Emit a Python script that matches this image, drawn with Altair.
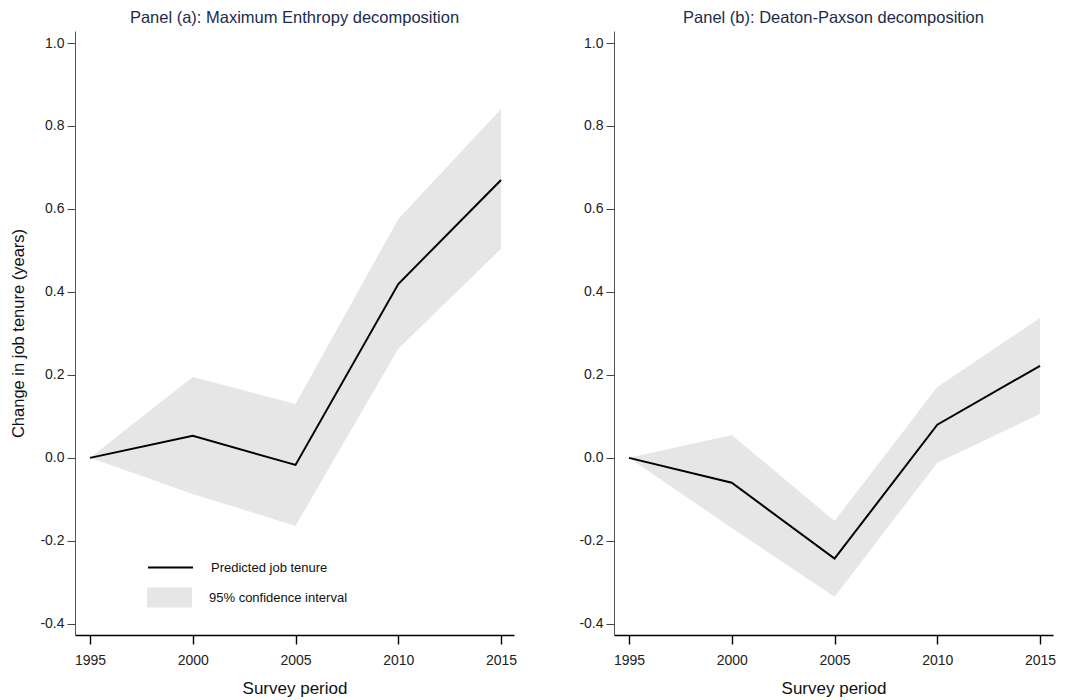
import altair as alt
import pandas as pd

years = [1995, 2000, 2005, 2010, 2015]

# Panel (a): Maximum Entropy decomposition
a_est = [0.0, 0.053, -0.017, 0.419, 0.670]
a_lo = [0.0, -0.087, -0.164, 0.263, 0.504]
a_hi = [0.0, 0.195, 0.130, 0.576, 0.841]

# Panel (b): Deaton-Paxson decomposition
b_est = [0.0, -0.060, -0.243, 0.080, 0.222]
b_lo = [0.0, -0.169, -0.335, -0.012, 0.106]
b_hi = [0.0, 0.055, -0.152, 0.171, 0.337]

x_ticks = [1995, 2000, 2005, 2010, 2015]
y_ticks = [-0.4, -0.2, 0.0, 0.2, 0.4, 0.6, 0.8, 1.0]

line_label = "Predicted job tenure"
ci_label = "95% confidence interval"

FONT = "Liberation Sans"
W, H = 439, 604
Y_DOMAIN = [-0.427, 1.029]

def frame(est, lo, hi):
    return pd.DataFrame({"year": years, "est": est, "lo": lo, "hi": hi,
                         "s": line_label, "c": ci_label})

x_enc = alt.X("year:Q", title="Survey period",
              scale=alt.Scale(domain=[1994.27, 2015.63], nice=False, zero=False),
              axis=alt.Axis(values=x_ticks, format="d", grid=False,
                            domainColor="#000000", domainWidth=1.6,
                            tickColor="#000000", tickWidth=1.4, tickSize=9,
                            labelPadding=9, labelFontSize=14, labelColor="#222222",
                            labelFont=FONT, titleFont=FONT, titleFontSize=17,
                            titleFontWeight="normal", titleColor="#111111",
                            titlePadding=13))

def y_axis():
    return alt.Axis(values=y_ticks, grid=False,
                    labelExpr="replace(format(datum.value, '.1f'), '\u2212', '-')",
                    domainColor="#555555", domainWidth=1,
                    tickColor="#444444", tickWidth=1, tickSize=8,
                    labelPadding=3, labelFontSize=14, labelColor="#222222",
                    labelFont=FONT, titleFont=FONT, titleFontSize=16.5,
                    titleFontWeight="normal", titleColor="#111111", titlePadding=13)

def y_enc(field, ytitle):
    return alt.Y(field, title=ytitle,
                 scale=alt.Scale(domain=Y_DOMAIN, nice=False, zero=False),
                 axis=y_axis())

def panel(df, title, ytitle, legend):
    base = alt.Chart(df)
    if legend:
        fill = alt.Fill("c:N", scale=alt.Scale(domain=[ci_label], range=["#e6e6e6"]),
                        legend=alt.Legend(orient="none", legendX=72, legendY=544,
                                          title=None, padding=0,
                                          symbolType="M-1,-0.44L1,-0.44L1,0.44L-1,0.44Z",
                                          symbolSize=2025, symbolStrokeWidth=0,
                                          symbolOpacity=1,
                                          labelFont=FONT, labelFontSize=13,
                                          labelColor="#111111", labelOffset=17))
        stroke = alt.Stroke("s:N", scale=alt.Scale(domain=[line_label], range=["#000000"]),
                            legend=alt.Legend(orient="none", legendX=72, legendY=513,
                                              title=None, padding=0,
                                              symbolType="stroke", symbolSize=2025,
                                              symbolStrokeWidth=2,
                                              labelFont=FONT, labelFontSize=13,
                                              labelColor="#111111", labelOffset=17))
    else:
        fill = alt.value("#e6e6e6")
        stroke = alt.value("#000000")
    band = base.mark_area(opacity=1).encode(x=x_enc, y=y_enc("lo:Q", ytitle),
                                            y2="hi:Q", fill=fill)
    line = base.mark_line(strokeWidth=2).encode(x=x_enc, y=y_enc("est:Q", ytitle),
                                                stroke=stroke)
    return alt.layer(band, line).properties(
        width=W, height=H,
        title=alt.TitleParams(title, font=FONT, fontSize=16.5, fontWeight="normal",
                              color="#1c2b4d", anchor="middle", offset=5))

pa = panel(frame(a_est, a_lo, a_hi), "Panel (a): Maximum Enthropy decomposition",
           "Change in job tenure (years)", True)
pb = panel(frame(b_est, b_lo, b_hi), "Panel (b): Deaton-Paxson decomposition",
           "", False)

chart = alt.hconcat(pa, pb, spacing=61).resolve_scale(
    fill="independent", stroke="independent").properties(
    padding={"left": 2, "top": 1, "right": 5, "bottom": 2},
    background="white").configure_view(stroke=None)

chart.save("out.html", embed_options={"renderer": "svg", "actions": False})
